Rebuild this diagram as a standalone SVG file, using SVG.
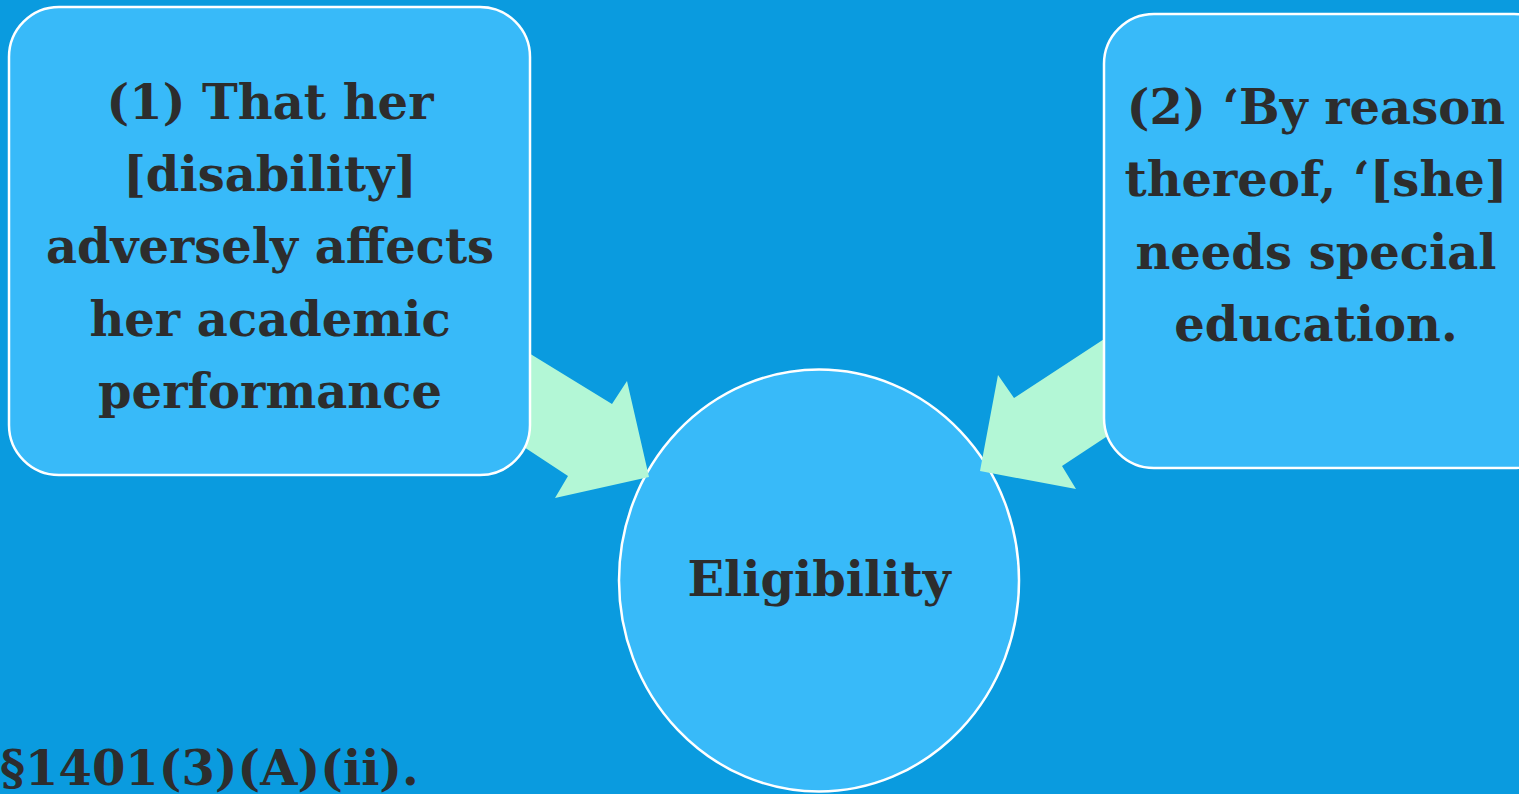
<svg xmlns="http://www.w3.org/2000/svg" width="1519" height="794" viewBox="0 0 1519 794">
<style>
.node{fill:#38BAF9;stroke:#FFFFFF;stroke-width:2.5}
.t{font-family:Georgia,"DejaVu Serif",serif;font-weight:bold;font-size:48px;fill:#2D2D2D;text-anchor:middle}
.arrow{fill:#B3F7D6;stroke:none}
</style>
<rect x="0" y="0" width="1519" height="794" fill="#0A9BDF"/>
<g id="eligibility">
<ellipse class="node" cx="819" cy="580.5" rx="200" ry="211"/>
<text class="t" x="819" y="596">Eligibility</text>
</g>
<g id="connectors">
<polygon class="arrow" points="480,323 612,404 627,381 649,477 555,498 568,476 480,418"/>
<polygon class="arrow" points="1150,309 1014,398 998,375 980,471 1076,489 1062,466 1150,408"/>
</g>
<g id="box1">
<rect class="node" x="9" y="7" width="521" height="468" rx="50"/>
<text class="t" x="270" y="119">(1) That  her</text>
<text class="t" x="270" y="191">[disability]</text>
<text class="t" x="270" y="263">adversely affects</text>
<text class="t" x="270" y="336">her academic</text>
<text class="t" x="270" y="408">performance</text>
</g>
<g id="box2">
<rect class="node" x="1104" y="14" width="460" height="454" rx="50"/>
<text class="t" x="1316" y="124">(2) ‘By reason</text>
<text class="t" x="1316" y="196">thereof, ‘[she]</text>
<text class="t" x="1316" y="269">needs special</text>
<text class="t" x="1316" y="341">education.</text>
</g>
<g id="citation">
<text class="t" x="0" y="785" style="text-anchor:start">§1401(3)(A)(ii).</text>
</g>
</svg>
